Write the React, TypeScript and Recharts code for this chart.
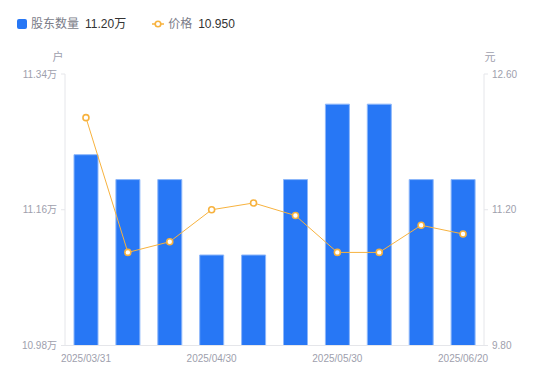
import React from "react";
import {
  Bar,
  ComposedChart,
  Line,
  XAxis,
  YAxis,
} from "recharts";

const dates = [
  "2025/03/31",
  "2025/04/10",
  "2025/04/18",
  "2025/04/30",
  "2025/05/09",
  "2025/05/20",
  "2025/05/30",
  "2025/06/10",
  "2025/06/13",
  "2025/06/20",
];
// 股东数量, in 万户
const holders = [11.233, 11.2, 11.2, 11.1, 11.1, 11.2, 11.3, 11.3, 11.2, 11.2];
// 价格, in 元
const prices = [12.15, 10.76, 10.87, 11.2, 11.27, 11.14, 10.76, 10.76, 11.04, 10.95];
const holderTicks = [10.98, 11.16, 11.34];
const priceTicks = [9.8, 11.2, 12.6];

const data = dates.map((d, i) => ({ date: d, holders: holders[i], price: prices[i] }));

const FONT = '"Liberation Sans", Arial, "Noto Sans CJK SC", sans-serif';
const AXIS_GRAY = "#e5e6ea";
const TEXT_GRAY = "#9ea0ad";
const BLUE = "#2777f5";
const ORANGE = "#f7b23e";

function Legend() {
  return (
    <div
      style={{
        position: "absolute",
        left: 17,
        top: 16,
        display: "flex",
        alignItems: "center",
        fontFamily: FONT,
        fontSize: 12,
        lineHeight: "16px",
      }}
    >
      <span
        style={{
          width: 10,
          height: 10,
          borderRadius: 2,
          background: BLUE,
          display: "inline-block",
          marginRight: 4,
        }}
      />
      <span style={{ color: "#7a7c88", marginRight: 6 }}>股东数量</span>
      <span style={{ color: "#333" }}>11.20万</span>
      <svg width={12} height={10} style={{ marginLeft: 26, marginRight: 4 }}>
        <line x1={0} y1={5} x2={12} y2={5} stroke={ORANGE} strokeWidth={1.5} />
        <circle cx={6} cy={5} r={2.8} fill="#fff" stroke={ORANGE} strokeWidth={1.6} />
      </svg>
      <span style={{ color: "#7a7c88", marginRight: 6 }}>价格</span>
      <span style={{ color: "#333" }}>10.950</span>
    </div>
  );
}

export default function App() {
  return (
    <div style={{ position: "relative", width: 550, height: 381 }}>
      <style>{"body{margin:0}"}</style>
      <Legend />
      <ComposedChart
        width={550}
        height={381}
        data={data}
        margin={{ top: 74, right: 0, left: 0, bottom: 5 }}
        barCategoryGap={0}
      >
        <XAxis
          dataKey="date"
          interval={2}
          height={30.5}
          tickLine={false}
          tickSize={6}
          tickMargin={3}
          axisLine={{ stroke: AXIS_GRAY }}
          tick={{ fontSize: 10, fill: TEXT_GRAY, fontFamily: FONT }}
        />
        <YAxis
          yAxisId="left"
          width={65}
          domain={[10.98, 11.34]}
          ticks={holderTicks}
          allowDataOverflow
          tickSize={4}
          tickMargin={4}
          axisLine={{ stroke: AXIS_GRAY }}
          tickLine={{ stroke: AXIS_GRAY }}
          tick={{ fontSize: 10, fill: TEXT_GRAY, fontFamily: FONT }}
          tickFormatter={(v: number) => `${v.toFixed(2)}万`}
          label={({ viewBox }: any) => (
            <text
              x={viewBox.x + viewBox.width - 7}
              y={viewBox.y - 13}
              textAnchor="middle"
              fontSize={11}
              fill={TEXT_GRAY}
              fontFamily={FONT}
            >
              户
            </text>
          )}
        />
        <YAxis
          yAxisId="right"
          orientation="right"
          width={66}
          domain={[9.8, 12.6]}
          ticks={priceTicks}
          allowDataOverflow
          tickSize={4}
          tickMargin={4}
          axisLine={{ stroke: AXIS_GRAY }}
          tickLine={{ stroke: AXIS_GRAY }}
          tick={{ fontSize: 10, fill: TEXT_GRAY, fontFamily: FONT }}
          tickFormatter={(v: number) => v.toFixed(2)}
          label={({ viewBox }: any) => (
            <text
              x={viewBox.x + 6}
              y={viewBox.y - 13}
              textAnchor="middle"
              fontSize={11}
              fill={TEXT_GRAY}
              fontFamily={FONT}
            >
              元
            </text>
          )}
        />
        <Bar
          yAxisId="left"
          dataKey="holders"
          barSize={24}
          fill={BLUE}
          stroke="#8db7fa"
          strokeWidth={1}
          isAnimationActive={false}
        />
        <Line
          yAxisId="right"
          dataKey="price"
          type="linear"
          stroke={ORANGE}
          strokeWidth={1}
          dot={{ r: 3, fill: "#fff", stroke: ORANGE, strokeWidth: 1.6 }}
          activeDot={false}
          isAnimationActive={false}
        />
      </ComposedChart>
    </div>
  );
}
